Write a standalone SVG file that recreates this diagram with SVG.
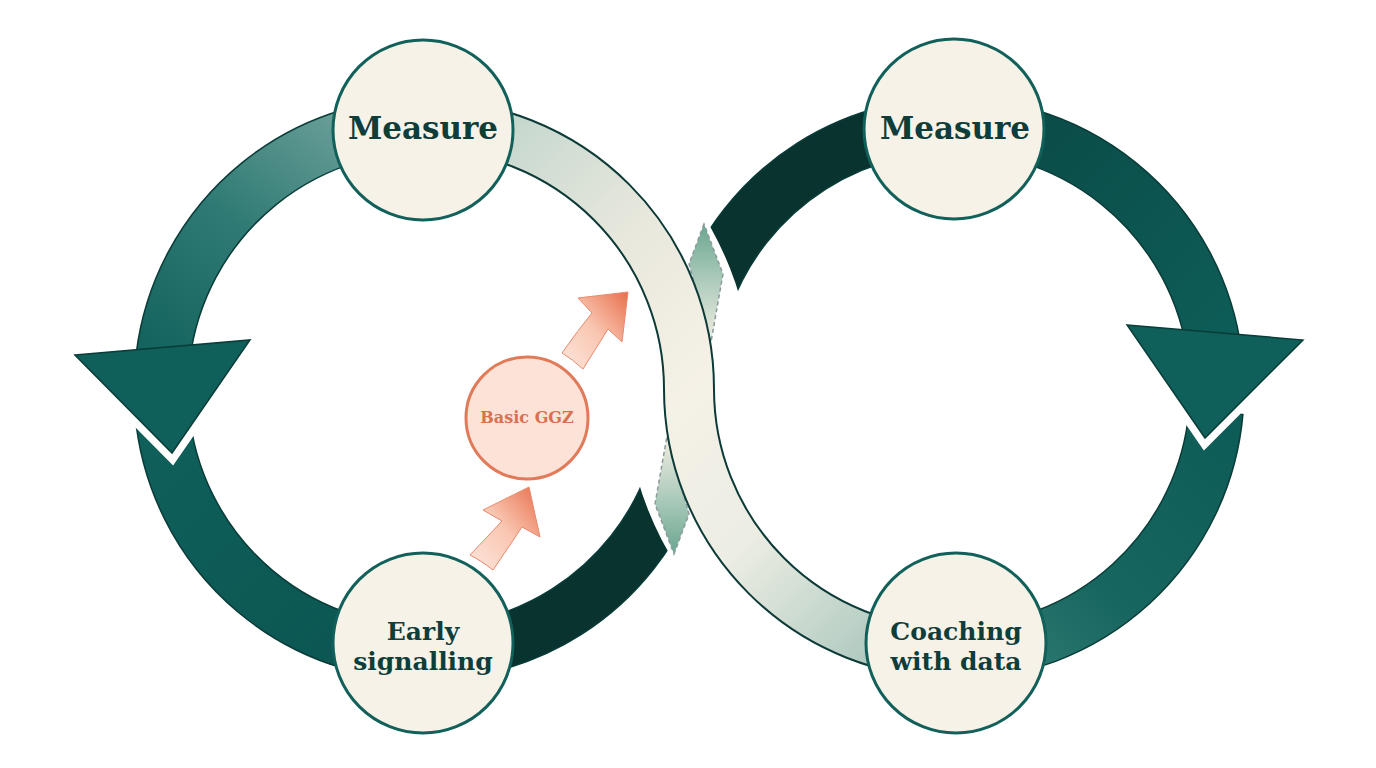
<svg xmlns="http://www.w3.org/2000/svg" width="1376" height="768" viewBox="0 0 1376 768">
<defs>
  <linearGradient id="gA" gradientUnits="userSpaceOnUse" x1="350" y1="110" x2="150" y2="360">
    <stop offset="0" stop-color="#6da19a"/><stop offset="0.5" stop-color="#2f7a74"/><stop offset="1" stop-color="#13625d"/>
  </linearGradient>
  <linearGradient id="gB" gradientUnits="userSpaceOnUse" x1="150" y1="440" x2="400" y2="680">
    <stop offset="0" stop-color="#0f5f5a"/><stop offset="1" stop-color="#0b5551"/>
  </linearGradient>
  <linearGradient id="gE" gradientUnits="userSpaceOnUse" x1="980" y1="110" x2="1230" y2="340">
    <stop offset="0" stop-color="#0a4945"/><stop offset="1" stop-color="#0e5d58"/>
  </linearGradient>
  <linearGradient id="gF" gradientUnits="userSpaceOnUse" x1="1220" y1="420" x2="980" y2="660">
    <stop offset="0" stop-color="#0e5c57"/><stop offset="0.6" stop-color="#17665f"/><stop offset="1" stop-color="#307d75"/>
  </linearGradient>
  <linearGradient id="gS" x1="0" y1="0" x2="1" y2="1">
    <stop offset="0" stop-color="#b3cbc1"/><stop offset="0.1" stop-color="#c9d9d0"/><stop offset="0.3" stop-color="#e9e8dd"/><stop offset="0.5" stop-color="#f5f1e7"/><stop offset="0.7" stop-color="#ecede3"/><stop offset="0.88" stop-color="#bcd1c7"/><stop offset="1" stop-color="#9fbdb2"/>
  </linearGradient>
  <linearGradient id="gL1" x1="0" y1="0" x2="0" y2="1">
    <stop offset="0" stop-color="#6aa690"/><stop offset="0.45" stop-color="#a9c9b9"/><stop offset="1" stop-color="#f2eee3"/>
  </linearGradient>
  <linearGradient id="gL2" x1="0" y1="0" x2="0" y2="1">
    <stop offset="0" stop-color="#f2eee3"/><stop offset="0.55" stop-color="#a9c9b9"/><stop offset="1" stop-color="#6aa690"/>
  </linearGradient>
  <linearGradient id="gO" x1="0" y1="1" x2="1" y2="0">
    <stop offset="0" stop-color="#fde6dc"/><stop offset="0.5" stop-color="#f9c6b1"/><stop offset="1" stop-color="#e86f4c"/>
  </linearGradient>
</defs>
<style>
  .band{stroke:#0a3c38;stroke-width:1.5;stroke-linejoin:round}
  .head{fill:#0f5f5a;stroke:#0a3c38;stroke-width:1.5;stroke-linejoin:miter}
  .headcut{fill:#ffffff;stroke:#ffffff;stroke-width:16;stroke-linejoin:miter;stroke-miterlimit:10}
  .node circle{fill:#f6f2e7;stroke:#12605a;stroke-width:3}
  .label{font-family:"DejaVu Serif","Liberation Serif",serif;font-weight:bold;fill:#0e3d3a;text-anchor:middle}
  .orange{fill:url(#gO);stroke:#e8896b;stroke-width:1}
  .lozenge{stroke:#8c9a9c;stroke-width:1.5;stroke-dasharray:4 3}
</style>
<rect width="1376" height="768" fill="#ffffff"/>
<g id="connectors">
  <!-- lower bands -->
  <path class="band" fill="url(#gB)" d="M450.4,678.9 A291,291 0 0 1 135.1,414.4 L188.9,409.7 A237,237 0 0 0 445.7,625.1 Z"/>
  <path class="band" fill="url(#gF)" d="M1242.9,414.4 A291,291 0 0 1 953,680 L953,626 A237,237 0 0 0 1189.1,409.7 Z"/>
  <!-- arrowhead cut-outs -->
  <polygon class="headcut" points="75,355 250,340 172,453"/>
  <polygon class="headcut" points="1127,325 1303,340 1205,438"/>
  <!-- upper bands -->
  <path class="band" fill="url(#gA)" d="M136.2,353.5 A291,291 0 0 1 450.4,99.1 L445.7,152.9 A237,237 0 0 0 189.8,360.1 Z"/>
  <path class="band" fill="url(#gE)" d="M927.6,99.1 A291,291 0 0 1 1241.8,353.5 L1188.2,360.1 A237,237 0 0 0 932.3,152.9 Z"/>
  <!-- arrowheads -->
  <polygon class="head" points="75,355 250,340 172,453"/>
  <polygon class="head" points="1127,325 1303,340 1205,438"/>
  <!-- dark crossing bands -->
  <path class="band" fill="#08332f" d="M698.5,488.5 A291,291 0 0 1 399.6,678.9 L404.3,625.1 A237,237 0 0 0 647.7,470.1 Z"/>
  <path class="band" fill="#08332f" d="M679.5,289.5 A291,291 0 0 1 978.4,99.1 L973.7,152.9 A237,237 0 0 0 730.3,307.9 Z"/>
  <!-- gap around the light crossing band -->
  <path d="M425,125 A264,264 0 0 1 689,389 A264,264 0 0 0 953,653" fill="none" stroke="#ffffff" stroke-width="128"/>
  <!-- hidden-part lozenges -->
  <path class="lozenge" fill="url(#gL1)" d="M704,224 L689,264 L711,342 L723,274 Z"/>
  <path class="lozenge" fill="url(#gL2)" d="M674,554 L689,514 L667,436 L655,504 Z"/>
  <!-- light crossing band -->
  <path d="M425,125 A264,264 0 0 1 689,389 A264,264 0 0 0 953,653" fill="none" stroke="#0c3a36" stroke-width="52"/>
  <path d="M425,125 A264,264 0 0 1 689,389 A264,264 0 0 0 953,653" fill="none" stroke="url(#gS)" stroke-width="48"/>
  <!-- orange arrows -->
  <path class="orange" d="M470,555 Q488,536 502,521 L483,510 L529,487 L540,537 L522,527 Q508,548 493,570 Q480,560 470,555 Z"/>
  <path class="orange" d="M562,353 Q578,330 592,313 L578,298 L628,292 L622,342 L608,329 Q595,350 583,369 Q572,359 562,353 Z"/>
</g>
<g id="node-basic-ggz">
  <circle cx="527" cy="418" r="61" fill="#fde2d7" stroke="#e07a59" stroke-width="3"/>
  <text x="527" y="423" font-family="DejaVu Serif, Liberation Serif, serif" font-weight="bold" font-size="16" fill="#d9704f" text-anchor="middle">Basic GGZ</text>
</g>
<g id="node-measure-left" class="node">
  <circle cx="423" cy="130" r="90"/>
  <text class="label" x="423" y="139" font-size="31">Measure</text>
</g>
<g id="node-measure-right" class="node">
  <circle cx="954" cy="129" r="90"/>
  <text class="label" x="955" y="139" font-size="31">Measure</text>
</g>
<g id="node-early-signalling" class="node">
  <circle cx="423" cy="643" r="90"/>
  <text class="label" x="423" y="640" font-size="25">Early</text>
  <text class="label" x="423" y="670" font-size="25">signalling</text>
</g>
<g id="node-coaching" class="node">
  <circle cx="956" cy="643" r="90"/>
  <text class="label" x="956" y="640" font-size="25">Coaching</text>
  <text class="label" x="956" y="670" font-size="25">with data</text>
</g>
</svg>
